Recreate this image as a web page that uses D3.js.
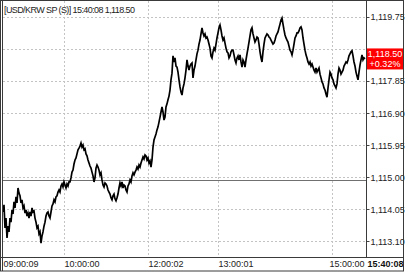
<!DOCTYPE html>
<html>
<head>
<meta charset="utf-8">
<script src="https://cdn.jsdelivr.net/npm/d3@7"></script>
<style>
  body { margin: 0; background: #fff; }
  text { font-family: "Liberation Sans", Arial, sans-serif; font-size: 9px; }
</style>
</head>
<body>
<script>
// tick-by-tick USD/KRW spot, one value per tick slot
var prices = [
  1113.97, 1114.18, 1113.50, 1113.79, 1113.20, 1113.55, 1113.38, 1113.79, 1113.67, 1114.03,
  1113.91, 1114.27, 1114.09, 1114.42, 1114.24, 1114.68, 1114.53, 1114.45, 1114.24, 1114.33,
  1114.09, 1114.15, 1113.94, 1114.03, 1113.85, 1113.94, 1113.79, 1113.97, 1113.85, 1114.09,
  1113.97, 1114.00, 1113.79, 1113.67, 1113.50, 1113.55, 1113.32, 1113.38, 1113.05, 1113.26,
  1113.38, 1113.55, 1113.67, 1113.85, 1113.94, 1113.97, 1113.85, 1113.79, 1113.97, 1114.15,
  1114.21, 1114.33, 1114.27, 1114.42, 1114.45, 1114.56, 1114.62, 1114.56, 1114.74, 1114.80,
  1114.71, 1114.86, 1114.77, 1114.68, 1114.80, 1114.74, 1114.86, 1114.86, 1114.98, 1115.15,
  1115.21, 1115.39, 1115.51, 1115.57, 1115.69, 1115.81, 1115.86, 1115.92, 1116.01, 1115.89,
  1115.95, 1115.81, 1115.84, 1115.69, 1115.63, 1115.51, 1115.42, 1115.33, 1115.27, 1115.15,
  1115.04, 1114.86, 1114.98, 1115.27, 1115.36, 1115.30, 1115.21, 1115.07, 1115.13, 1114.92,
  1114.77, 1114.71, 1114.83, 1114.80, 1114.74, 1114.62, 1114.56, 1114.50, 1114.39, 1114.33,
  1114.45, 1114.50, 1114.36, 1114.30, 1114.39, 1114.50, 1114.68, 1114.83, 1114.74, 1114.86,
  1114.68, 1114.77, 1114.74, 1114.62, 1114.56, 1114.74, 1114.80, 1114.92, 1114.86, 1115.04,
  1115.13, 1115.07, 1115.15, 1115.21, 1115.30, 1115.24, 1115.36, 1115.30, 1115.42, 1115.51,
  1115.60, 1115.54, 1115.66, 1115.63, 1115.51, 1115.57, 1115.42, 1115.48, 1115.30, 1115.51,
  1115.89, 1116.10, 1116.19, 1116.28, 1116.40, 1116.49, 1116.63, 1116.78, 1116.93, 1117.08,
  1116.93, 1116.69, 1116.78, 1117.08, 1117.17, 1117.29, 1117.40, 1117.58, 1117.88, 1118.08,
  1118.59, 1118.41, 1118.53, 1118.29, 1118.26, 1118.11, 1117.88, 1117.67, 1117.52, 1117.43,
  1117.64, 1117.76, 1117.94, 1118.17, 1118.47, 1118.29, 1118.17, 1118.29, 1118.35, 1118.38,
  1117.94, 1118.17, 1118.29, 1118.47, 1118.65, 1118.76, 1118.94, 1119.06, 1119.24, 1119.42,
  1119.27, 1119.18, 1119.24, 1119.12, 1119.15, 1119.06, 1118.94, 1118.82, 1118.59, 1118.53,
  1118.71, 1118.82, 1118.76, 1118.94, 1119.12, 1119.27, 1119.42, 1119.50, 1119.36, 1119.18,
  1119.06, 1119.12, 1118.97, 1118.82, 1118.71, 1118.68, 1118.53, 1118.59, 1118.71, 1118.76,
  1118.76, 1118.62, 1118.47, 1118.38, 1118.53, 1118.59, 1118.47, 1118.62, 1118.41, 1118.26,
  1118.47, 1118.41, 1118.26, 1118.47, 1118.65, 1118.82, 1119.00, 1119.18, 1119.36, 1119.42,
  1119.24, 1119.12, 1119.00, 1119.06, 1119.15, 1119.12, 1118.94, 1118.71, 1118.53, 1118.41,
  1118.71, 1118.94, 1119.12, 1119.18, 1119.24, 1119.21, 1119.15, 1119.12, 1119.06, 1119.00,
  1118.94, 1118.97, 1119.06, 1119.18, 1119.24, 1119.30, 1119.42, 1119.53, 1119.65, 1119.71,
  1119.53, 1119.36, 1119.21, 1119.12, 1119.06, 1119.00, 1118.88, 1118.76, 1118.71, 1118.62,
  1118.76, 1118.94, 1119.12, 1119.18, 1119.27, 1119.27, 1119.33, 1119.42, 1119.45, 1119.36,
  1119.12, 1118.94, 1118.76, 1118.62, 1118.53, 1118.41, 1118.35, 1118.41, 1118.29, 1118.35,
  1118.26, 1118.17, 1118.11, 1118.23, 1118.11, 1118.17, 1118.23, 1118.05, 1117.94, 1117.82,
  1117.76, 1117.64, 1117.58, 1117.46, 1117.37, 1117.64, 1117.88, 1118.11, 1118.05, 1117.94,
  1117.88, 1117.76, 1117.70, 1117.64, 1117.76, 1118.05, 1118.23, 1118.17, 1118.05, 1118.11,
  1118.17, 1118.29, 1118.35, 1118.41, 1118.38, 1118.47, 1118.59, 1118.65, 1118.71, 1118.74,
  1118.59, 1118.41, 1118.29, 1118.11, 1117.99, 1117.88, 1118.11, 1118.32, 1118.47, 1118.62,
  1118.47, 1118.53, 1118.50
];

var yTicks = [1119.75, 1118.80, 1117.85, 1116.90, 1115.95, 1115.00, 1114.05, 1113.10];
var xTickSlots = [0, 61, 145, 215, 329];
var xTickLabels = ["09:00:09", "10:00:00", "12:00:02", "13:00:01", "15:00:00"];

var title = "[USD/KRW SP (S)] 15:40:08  1,118.50";
var lastTime = "15:40:08";
var lastPrice = 1118.50;
var changePct = 0.32;
var prevClose = 1114.93;

var W = 406, H = 274;
var plot = { left: 3, right: 366.5, top: 1, bottom: 257.5 };

var svg = d3.select("body").append("svg")
  .attr("width", W)
  .attr("height", H);

// scales
var x = d3.scaleLinear()
  .domain([0, prices.length - 1])
  .range([3, 365]);
var y = d3.scaleLinear()
  .domain([1113.10, 1119.75])
  .range([241.4, 16.7]);

var fmt = d3.format(",.2f");

svg.append("clipPath").attr("id", "clip")
  .append("rect")
  .attr("x", plot.left)
  .attr("y", plot.top)
  .attr("width", plot.right - plot.left)
  .attr("height", plot.bottom - plot.top);

// grid
var grid = svg.append("g").attr("stroke", "#c4c4c4").attr("stroke-dasharray", "2,2");
grid.selectAll(".hg")
  .data(yTicks)
  .enter().append("line")
  .attr("x1", plot.left).attr("x2", plot.right)
  .attr("y1", function (d) { return Math.round(y(d)) + 0.5; })
  .attr("y2", function (d) { return Math.round(y(d)) + 0.5; });
grid.selectAll(".vg")
  .data(xTickSlots.slice(1))
  .enter().append("line")
  .attr("y1", plot.top).attr("y2", plot.bottom)
  .attr("x1", function (d) { return Math.round(x(d)) + 0.5; })
  .attr("x2", function (d) { return Math.round(x(d)) + 0.5; });

// previous close
svg.append("line")
  .attr("x1", plot.left).attr("x2", plot.right)
  .attr("y1", Math.round(y(prevClose)) + 0.5)
  .attr("y2", Math.round(y(prevClose)) + 0.5)
  .attr("stroke", "#707070");

// price line
svg.append("path")
  .datum(prices)
  .attr("clip-path", "url(#clip)")
  .attr("fill", "none")
  .attr("stroke", "#000")
  .attr("stroke-width", 1.7)
  .attr("stroke-linejoin", "miter")
  .attr("d", d3.line()
    .x(function (d, i) { return x(i); })
    .y(function (d) { return y(d); }));

// title
svg.append("text")
  .attr("x", 4).attr("y", 13)
  .attr("fill", "#222")
  .attr("textLength", 131)
  .text(title);

// right axis; the label under the price box stays hidden as in the source
var boxTop = y(lastPrice) - 10.5, boxBottom = y(lastPrice) + 10.5;
var shown = yTicks.filter(function (d) { return y(d) < boxTop - 2 || y(d) > boxBottom + 2; });
var yAxis = svg.append("g");
yAxis.selectAll("line")
  .data(yTicks)
  .enter().append("line")
  .attr("x1", plot.right).attr("x2", plot.right + 3)
  .attr("y1", function (d) { return Math.round(y(d)) + 0.5; })
  .attr("y2", function (d) { return Math.round(y(d)) + 0.5; })
  .attr("stroke", "#444");
yAxis.selectAll("text")
  .data(shown)
  .enter().append("text")
  .attr("x", plot.right + 4)
  .attr("y", function (d) { return y(d) + 3.5; })
  .attr("fill", "#222")
  .text(function (d) { return fmt(d); });

// current price box
var box = svg.append("g");
box.append("rect")
  .attr("x", plot.right + 0.5).attr("y", boxTop)
  .attr("width", 36).attr("height", 21)
  .attr("fill", "#ff0000");
box.append("text")
  .attr("x", plot.right + 18.5).attr("y", y(lastPrice) - 1.5)
  .attr("text-anchor", "middle").attr("fill", "#fff")
  .text(fmt(lastPrice));
box.append("text")
  .attr("x", plot.right + 18.5).attr("y", y(lastPrice) + 8.5)
  .attr("text-anchor", "middle").attr("fill", "#fff")
  .text("+" + changePct.toFixed(2) + "%");

// bottom axis labels
svg.append("g").selectAll("text")
  .data(xTickSlots)
  .enter().append("text")
  .attr("x", function (d) { return Math.min(x(d) + 0.5, plot.right - 37); })
  .attr("y", 267)
  .attr("fill", "#222")
  .text(function (d, i) { return xTickLabels[i]; });
svg.append("text")
  .attr("x", plot.right + 1).attr("y", 267)
  .attr("font-weight", "bold")
  .attr("fill", "#111")
  .text(lastTime);

// frame
var frame = svg.append("g").attr("stroke", "#3a3a3a").attr("fill", "none");
frame.append("rect").attr("x", 0.5).attr("y", 0.5).attr("width", 403).attr("height", 270.5);
frame.append("line").attr("x1", 2.5).attr("x2", 2.5).attr("y1", 0.5).attr("y2", 271);
frame.append("line").attr("x1", plot.right).attr("x2", plot.right).attr("y1", 0.5).attr("y2", plot.bottom);
frame.append("line").attr("x1", 0.5).attr("x2", 403.5).attr("y1", plot.bottom).attr("y2", plot.bottom);
</script>
</body>
</html>
